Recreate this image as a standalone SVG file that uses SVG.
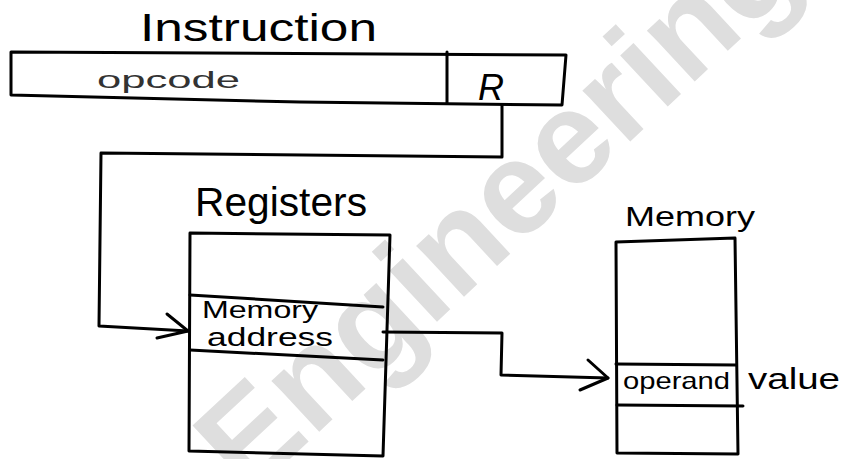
<svg xmlns="http://www.w3.org/2000/svg" width="856" height="459" viewBox="0 0 856 459">
  <style>
    .ln { fill: none; stroke: #000; stroke-width: 3; stroke-linecap: round; stroke-linejoin: round; }
    .hw { font-family: "Liberation Sans", Arial, sans-serif; fill: #000; }
    .wm { font-family: "Liberation Sans", Arial, sans-serif; font-weight: bold; fill: #dedede; }
  </style>
  <rect width="856" height="459" fill="#ffffff"/>
  <g id="watermark">
    <text class="wm" font-size="132" transform="translate(248,498) rotate(-43)">Engineering</text>
  </g>
  <g id="instruction">
    <text class="hw" x="140" y="41" font-size="38" textLength="237" lengthAdjust="spacingAndGlyphs">Instruction</text>
    <path class="ln" d="M11,52 L566,55 L562,105 L300,102 L11,95 Z"/>
    <path class="ln" d="M447,52 L447,103"/>
    <text class="hw" x="97" y="88" font-size="24" textLength="143" lengthAdjust="spacingAndGlyphs" style="fill:#333">opcode</text>
    <text class="hw" x="478" y="100" font-size="36" font-style="italic">R</text>
  </g>
  <g id="registers">
    <text class="hw" x="195" y="216" font-size="40" textLength="172" lengthAdjust="spacingAndGlyphs">Registers</text>
    <path class="ln" d="M190,233 L390,235 L383,456 L189,451 Z"/>
    <path class="ln" d="M190,295 L383,307"/>
    <path class="ln" d="M190,350 L383,360"/>
    <text class="hw" x="202" y="318" font-size="24" textLength="116" lengthAdjust="spacingAndGlyphs">Memory</text>
    <text class="hw" x="207" y="346" font-size="26" textLength="126" lengthAdjust="spacingAndGlyphs">address</text>
  </g>
  <g id="memory">
    <text class="hw" x="625" y="226" font-size="28" textLength="130" lengthAdjust="spacingAndGlyphs">Memory</text>
    <path class="ln" d="M616,242 L735,238 L738,454 L617,453 Z"/>
    <path class="ln" d="M616,364 L736,365"/>
    <path class="ln" d="M617,405 L743,406"/>
    <text class="hw" x="623" y="389" font-size="24" textLength="107" lengthAdjust="spacingAndGlyphs">operand</text>
    <text class="hw" x="748" y="389" font-size="30" textLength="92" lengthAdjust="spacingAndGlyphs">value</text>
  </g>
  <g id="connectors">
    <path class="ln" d="M502,105 L502,157 L101,153 L99,326 L188,331"/>
    <path class="ln" d="M167,314 L188,331 L157,338"/>
    <path class="ln" d="M383,332 L502,333 L501,375 L608,378"/>
    <path class="ln" d="M588,360 L608,378 L580,390"/>
  </g>
</svg>
